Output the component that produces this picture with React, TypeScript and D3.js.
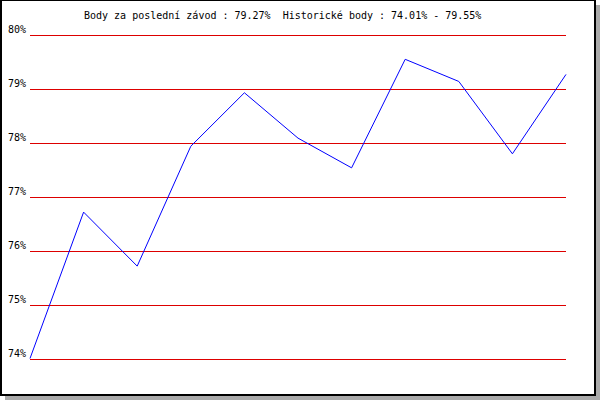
import { useMemo } from "react";
import * as d3 from "d3";

const TITLE = "Body za poslední závod : 79.27%  Historické body : 74.01% - 79.55%";
const races = [1, 2, 3, 4, 5, 6, 7, 8, 9, 10, 11];
const points = [74.01, 76.72, 75.72, 77.94, 78.93, 78.09, 77.54, 79.55, 79.14, 77.8, 79.27];
const yTicks = [74, 75, 76, 77, 78, 79, 80];

const W = 600;
const H = 400;

export default function App() {
  const { x, y, line } = useMemo(() => {
    const x = d3.scaleLinear().domain([1, 11]).range([30, 566]);
    const y = d3.scaleLinear().domain([74, 80]).range([359, 35]);
    const line = d3
      .line<number>()
      .x((_, i) => x(races[i]))
      .y((d) => y(d));
    return { x, y, line };
  }, []);

  return (
    <div style={{ position: "fixed", left: 0, top: 0 }}>
      <svg width={W} height={H} style={{ display: "block" }}>
        {/* shadow + frame */}
        <rect x={5} y={5} width={595} height={395} fill="#aaaaaa" />
        <rect x={0} y={0} width={596} height={396} fill="#000" />
        <rect x={2} y={1} width={592} height={393} fill="#fff" />

        <text
          x={84}
          y={19}
          fontFamily="DejaVu Sans Mono"
          fontSize={10}
          fill="#000"
          style={{ whiteSpace: "pre" }}
        >
          {TITLE}
        </text>

        {yTicks.map((t) => (
          <g key={t}>
            <line
              x1={x(1)}
              x2={x(11)}
              y1={Math.round(y(t)) + 0.5}
              y2={Math.round(y(t)) + 0.5}
              stroke="#dd0000"
              strokeWidth={1}
              shapeRendering="crispEdges"
            />
            <text
              x={26}
              y={Math.round(y(t)) - 2}
              textAnchor="end"
              fontFamily="DejaVu Sans Mono"
              fontSize={10}
              fill="#000"
            >
              {t}%
            </text>
          </g>
        ))}

        <path
          d={line(points) ?? ""}
          fill="none"
          stroke="#0000ff"
          strokeWidth={1}
        />
      </svg>
    </div>
  );
}
